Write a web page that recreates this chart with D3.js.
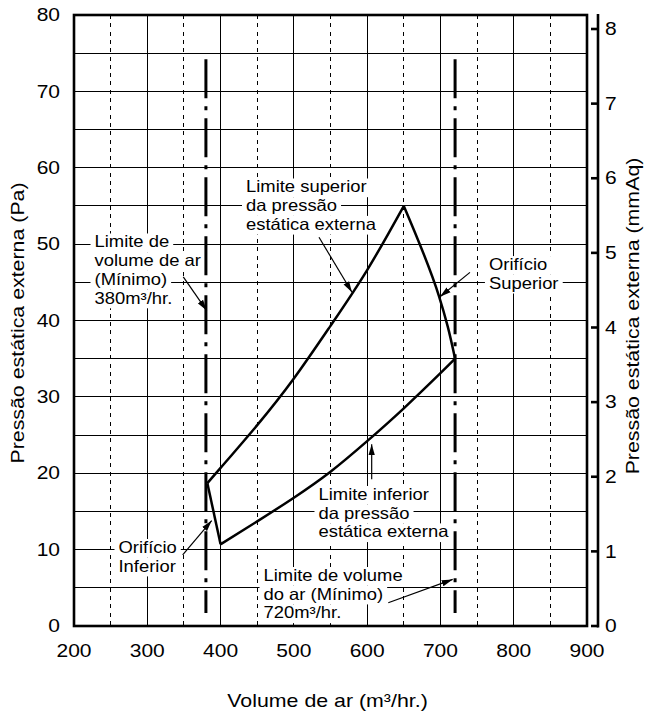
<!DOCTYPE html>
<html><head><meta charset="utf-8">
<script src="https://cdn.jsdelivr.net/npm/d3@7"></script>
<style>
body{margin:0;background:#fff}
svg{display:block}
text{font-family:"Liberation Sans",Arial,Helvetica,sans-serif;fill:#000}
</style>
</head><body>
<svg id="c" width="645" height="715"></svg>
<script>
// ---------- data ----------
const xTicks = [200, 300, 400, 500, 600, 700, 800, 900];
const xMinor = [250, 350, 450, 550, 650, 750, 850];
const yTicks = [0, 10, 20, 30, 40, 50, 60, 70, 80];
const yGrid = [5, 10, 15, 20, 25, 30, 35, 40, 45, 50, 55, 60, 65, 70, 75];
const mmAqTicks = [0, 1, 2, 3, 4, 5, 6, 7, 8];

// upper static pressure limit
const upperX = [382, 400, 450, 500, 550, 600, 650];
const upperP = [18.7, 20.7, 26.3, 32.4, 39.3, 46.6, 55];
// lower static pressure limit
const lowerX = [400, 450, 500, 550, 600, 650, 700, 720];
const lowerP = [10.7, 13.7, 16.8, 20.2, 24.2, 28.5, 33.1, 35];
// upper orifice
const supX = [650, 698, 710, 720];
const supP = [55, 43.2, 39.2, 35];
// lower orifice
const infX = [382, 400];
const infP = [18.7, 10.7];
// air volume limits (dash-dot)
const limitX = [380, 720];
const limitP = [1.7, 74.2];

const annotations = [
  {x: 434.7, p: 56.76, lines: ["Limite superior", "da pressão", "estática externa"], ax: [534.3, 579.3], ap: [50.9, 43.7]},
  {x: 228, p: 49.56, lines: ["Limite de", "volume de ar", "(Mínimo)", "380m³/hr."], ax: [349.1, 381.1], ap: [45.7, 41.3]},
  {x: 766.2, p: 46.6, lines: ["Orifício", "Superior"], ax: [740.3, 699.4], ap: [46.3, 43.1]},
  {x: 533.6, p: 16.5, lines: ["Limite inferior", "da pressão", "estática externa"], ax: [606.2, 606.2], ap: [19.2, 23.8]},
  {x: 260.7, p: 9.56, lines: ["Orifício", "Inferior"], ax: [348.3, 387.9], ap: [9.3, 13.8]},
  {x: 458.6, p: 5.89, lines: ["Limite de volume", "do ar (Mínimo)", "720m³/hr."], ax: [628.8, 716.7], ap: [3.05, 6.1]}
];

// ---------- drawing ----------
const svg = d3.select("#c");
const x = d3.scaleLinear().domain([200, 900]).range([74, 587]);
const y = d3.scaleLinear().domain([0, 80]).range([626, 15]);
const y2 = d3.scaleLinear().domain([0, 8]).range([626, 29]);

const TXT = 16.3, TSX = 1.13;   // annotation font
const TICK = 17.5, KSX = 1.2;   // tick font
const TIT = 17.5, ASX = 1.22;   // axis titles

function label(parent, px, py, str, size, sx, anchor, rot) {
  return parent.append("text")
    .attr("transform", `translate(${px},${py}) rotate(${rot || 0}) scale(${sx},1)`)
    .attr("text-anchor", anchor || "start")
    .style("font-size", size + "px")
    .text(str);
}

// grid
const grid = svg.append("g").attr("shape-rendering", "crispEdges");
grid.selectAll(".h").data(yGrid).join("line")
  .attr("x1", x(200)).attr("x2", x(900))
  .attr("y1", d => y(d)).attr("y2", d => y(d))
  .attr("stroke", "#000").attr("stroke-width", 1);
grid.selectAll(".v").data(xTicks.slice(1, -1)).join("line")
  .attr("x1", d => x(d)).attr("x2", d => x(d))
  .attr("y1", y(0)).attr("y2", y(80))
  .attr("stroke", "#000").attr("stroke-width", 1);
grid.selectAll(".vd").data(xMinor).join("line")
  .attr("x1", d => x(d)).attr("x2", d => x(d))
  .attr("y1", y(80)).attr("y2", y(0))
  .attr("stroke", "#000").attr("stroke-width", 1)
  .attr("stroke-dasharray", "4,4.3");

// annotation text blocks (white backgrounds first)
const LH = 18.7;
const annG = svg.append("g");
const textLayer = [];
annotations.forEach(a => {
  a.lines.forEach((ln, i) => {
    const g = annG.append("g")
      .attr("transform", `translate(${x(a.x)},${y(a.p) + i * LH}) scale(${TSX},1)`);
    const r = g.append("rect").attr("fill", "#fff");
    const t = g.append("text").style("font-size", TXT + "px").text(ln);
    const bb = t.node().getBBox();
    r.attr("x", -4 / TSX).attr("y", -14).attr("width", bb.width + 8 / TSX).attr("height", LH);
    textLayer.push(g);
  });
});

// frame
svg.append("rect")
  .attr("x", x(200)).attr("y", y(80))
  .attr("width", x(900) - x(200)).attr("height", y(0) - y(80))
  .attr("fill", "none").attr("stroke", "#000").attr("stroke-width", 2.6);

// right secondary axis
svg.append("line").attr("x1", 598).attr("x2", 598)
  .attr("y1", y(80) - 1).attr("y2", y(0) + 1.5)
  .attr("stroke", "#000").attr("stroke-width", 2.6);
svg.selectAll(".rt").data(mmAqTicks).join("line")
  .attr("x1", 591).attr("x2", 598)
  .attr("y1", d => y2(d)).attr("y2", d => y2(d))
  .attr("stroke", "#000").attr("stroke-width", 2.6);
mmAqTicks.forEach(d => label(svg, 605, y2(d) + 6.2, d, TICK, KSX, "start"));

// left tick labels
yTicks.forEach(d => label(svg, 60, y(d) + 6.2, d, TICK, KSX, "end"));
// bottom tick labels
xTicks.forEach(d => label(svg, x(d), 657, d, TICK, KSX, "middle"));

// axis titles
label(svg, 327.5, 706.5, "Volume de ar (m³/hr.)", TIT, ASX, "middle");
label(svg, 24, 323, "Pressão estática externa (Pa)", TIT, ASX, "middle", -90);
label(svg, 639, 316, "Pressão estática externa (mmAq)", TIT, ASX, "middle", -90);

// dash-dot limit lines
svg.selectAll(".lim").data(limitX).join("line")
  .attr("x1", d => x(d)).attr("x2", d => x(d))
  .attr("y1", y(limitP[1])).attr("y2", y(limitP[0]))
  .attr("stroke", "#000").attr("stroke-width", 3)
  .attr("stroke-dasharray", "39,8,4,8");

// curves
const lineN = d3.line().x(d => x(d[0])).y(d => y(d[1])).curve(d3.curveNatural);
const lineC = d3.line().x(d => x(d[0])).y(d => y(d[1])).curve(d3.curveMonotoneY);
const lineL = d3.line().x(d => x(d[0])).y(d => y(d[1]));
function pts(xs, ps) { return xs.map((v, i) => [v, ps[i]]); }
const curveStyle = s => s.attr("fill", "none").attr("stroke", "#000")
  .attr("stroke-width", 2.5).attr("stroke-linejoin", "miter");
svg.append("path").attr("d", lineN(pts(upperX, upperP))).call(curveStyle);
svg.append("path").attr("d", lineN(pts(lowerX, lowerP))).call(curveStyle);
svg.append("path").attr("d", lineC(pts(supX, supP))).call(curveStyle);
svg.append("path").attr("d", lineL(pts(infX, infP))).call(curveStyle);

// arrows
svg.append("defs").append("marker")
  .attr("id", "ah").attr("viewBox", "0 -4 11 8")
  .attr("refX", 11).attr("refY", 0)
  .attr("markerWidth", 11).attr("markerHeight", 8)
  .attr("markerUnits", "userSpaceOnUse").attr("orient", "auto")
  .append("path").attr("d", "M0,-3.2L11,0L0,3.2Z").attr("fill", "#000");
annotations.forEach(a => {
  svg.append("line")
    .attr("x1", x(a.ax[0])).attr("y1", y(a.ap[0]))
    .attr("x2", x(a.ax[1])).attr("y2", y(a.ap[1]))
    .attr("stroke", "#000").attr("stroke-width", 1.2)
    .attr("marker-end", "url(#ah)");
});

// annotation text on top
textLayer.forEach(g => {
  const t = g.select("text");
  const tr = g.attr("transform");
  svg.append("text").attr("transform", tr).style("font-size", TXT + "px").text(t.text());
  t.remove();
});
</script>
</body></html>
